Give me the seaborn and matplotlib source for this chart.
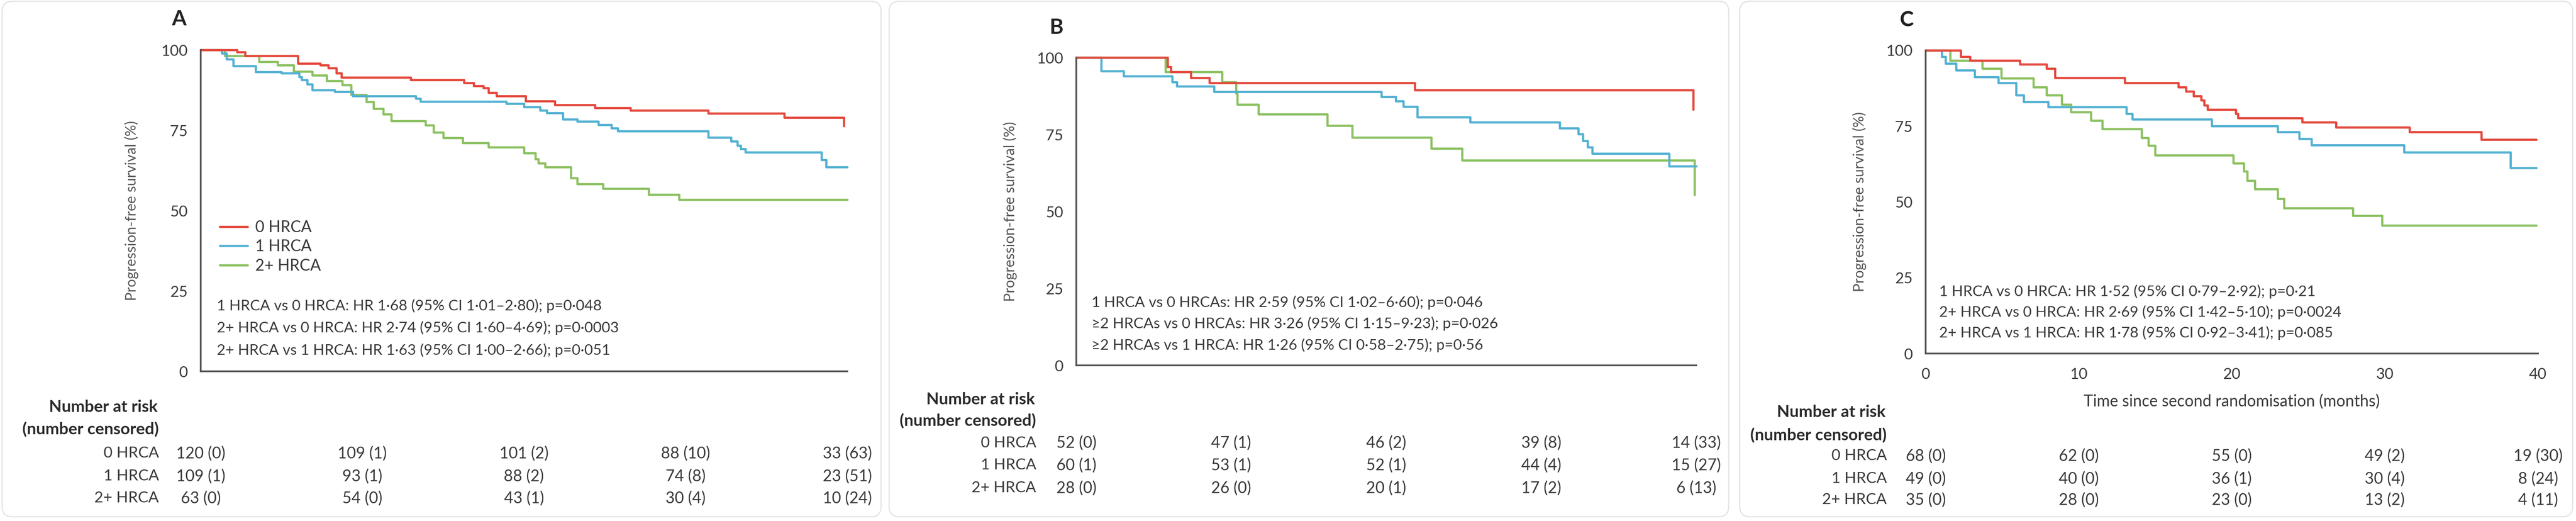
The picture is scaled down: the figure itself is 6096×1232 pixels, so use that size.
import matplotlib
matplotlib.use("Agg")
import matplotlib.pyplot as plt
import matplotlib.transforms as mtransforms
from matplotlib.patches import FancyBboxPatch
import seaborn as sns

# --- Data ---
months = [0, 10, 20, 30, 40]
group_names = ["0 HRCA", "1 HRCA", "2+ HRCA"]

# Panel A: Kaplan-Meier steps (time in months, PFS in %)
a0_t = [0, 2.25, 2.75, 6.0, 7.4, 7.9, 8.4, 8.7, 13.0, 16.3, 16.9, 17.5, 17.8, 18.3,
        20.1, 21.9, 24.4, 26.6, 31.4, 36.1, 39.8]
a0_s = [100, 99.4, 98.1, 95.8, 95.2, 94.3, 92.7, 91.4, 90.7, 89.7, 88.8, 88.2, 86.7, 85.7,
        84.1, 82.9, 82.0, 81.2, 80.2, 78.9, 76.3]
a1_t = [0, 1.3, 1.6, 2.0, 3.4, 5.0, 6.1, 6.25, 6.6, 6.9, 8.3, 9.4, 13.3, 13.6, 18.9, 20.0,
        21.0, 21.4, 22.4, 23.3, 24.6, 25.4, 25.8, 31.4, 32.8, 33.2, 33.4, 33.7, 38.4, 38.7, 40.0]
a1_s = [100, 99.0, 97.1, 95.0, 93.2, 92.7, 91.6, 90.6, 89.3, 87.5, 87.0, 85.7, 84.9, 84.0, 83.3, 82.2,
        81.2, 80.4, 78.4, 77.7, 76.7, 75.6, 74.7, 72.7, 71.6, 70.3, 69.2, 68.1, 65.8, 63.6, 63.6]
a2_t = [0, 1.5, 3.6, 4.75, 5.75, 6.9, 7.8, 8.75, 9.3, 10.25, 10.7, 11.3, 11.8, 13.9, 14.4, 15.0,
        16.2, 17.8, 20.0, 20.7, 20.9, 21.3, 22.9, 23.3, 24.9, 27.7, 29.6, 40.0]
a2_s = [100, 98.1, 96.3, 95.2, 93.3, 92.1, 90.4, 89.1, 86.0, 83.8, 81.7, 80.0, 77.9, 76.6, 74.4, 72.6,
        71.0, 69.7, 67.9, 66.1, 64.8, 63.6, 60.1, 58.3, 56.8, 55.0, 53.4, 53.4]

# Panel B
b0_t = [0, 5.9, 6.1, 7.4, 8.6, 21.85, 39.8]
b0_s = [100, 97.0, 95.3, 93.4, 91.7, 89.4, 83.1]
b1_t = [0, 1.6, 3.05, 6.2, 6.5, 8.9, 19.7, 20.6, 21.1, 22.0, 25.4, 31.2, 32.4, 32.7, 33.0, 33.3,
        38.25, 40.0]
b1_s = [100, 95.6, 94.0, 92.1, 90.7, 88.9, 87.2, 85.8, 84.1, 80.7, 79.0, 77.1, 75.2, 73.0, 70.9, 68.8,
        64.7, 64.7]
b2_t = [0, 5.75, 9.4, 10.3, 10.4, 11.75, 16.2, 17.8, 22.9, 24.9, 39.9]
b2_s = [100, 95.3, 92.1, 88.3, 84.7, 81.6, 77.9, 74.0, 70.5, 66.6, 55.4]

# Panel C
c0_t = [0, 2.3, 2.9, 6.15, 7.9, 8.45, 13.0, 16.5, 17.0, 17.5, 18.0, 18.2, 18.4, 20.25, 20.4,
        24.6, 26.8, 31.6, 36.3, 39.9]
c0_s = [100, 97.9, 96.6, 95.4, 94.0, 90.9, 89.3, 87.9, 86.5, 84.9, 83.5, 81.9, 80.5, 79.1, 77.7,
        76.3, 74.6, 73.1, 70.6, 70.6]
c1_t = [0, 1.05, 1.3, 2.0, 3.2, 4.75, 5.9, 6.4, 8.0, 13.1, 13.5, 18.7, 23.0, 24.4, 25.2, 31.25,
        38.2, 39.9]
c1_s = [100, 97.9, 95.7, 93.4, 91.2, 89.3, 85.2, 83.0, 81.3, 79.1, 77.2, 75.0, 73.1, 70.8, 68.8, 66.4,
        61.2, 61.2]
c2_t = [0, 1.6, 3.7, 4.95, 7.05, 7.9, 8.9, 9.5, 10.8, 11.55, 14.1, 14.55, 15.0, 20.1, 20.8, 21.0,
        21.5, 23.0, 23.4, 27.9, 29.8, 39.9]
c2_s = [100, 96.7, 94.0, 90.8, 87.9, 85.2, 82.1, 79.6, 76.8, 74.1, 71.1, 68.6, 65.4, 62.8, 60.1, 57.0,
        54.3, 51.0, 48.0, 45.5, 42.3, 42.3]

# Hazard ratio annotations
hr_a = ["1 HRCA vs 0 HRCA: HR 1·68 (95% CI 1·01–2·80); p=0·048",
        "2+ HRCA vs 0 HRCA: HR 2·74 (95% CI 1·60–4·69); p=0·0003",
        "2+ HRCA vs 1 HRCA: HR 1·63 (95% CI 1·00–2·66); p=0·051"]
hr_b = ["1 HRCA vs 0 HRCAs: HR 2·59 (95% CI 1·02–6·60); p=0·046",
        "≥2 HRCAs vs 0 HRCAs: HR 3·26 (95% CI 1·15–9·23); p=0·026",
        "≥2 HRCAs vs 1 HRCA: HR 1·26 (95% CI 0·58–2·75); p=0·56"]
hr_c = ["1 HRCA vs 0 HRCA: HR 1·52 (95% CI 0·79–2·92); p=0·21",
        "2+ HRCA vs 0 HRCA: HR 2·69 (95% CI 1·42–5·10); p=0·0024",
        "2+ HRCA vs 1 HRCA: HR 1·78 (95% CI 0·92–3·41); p=0·085"]

# Number at risk (number censored) at 0, 10, 20, 30, 40 months
risk_a0, cens_a0 = [120, 109, 101, 88, 33], [0, 1, 2, 10, 63]
risk_a1, cens_a1 = [109, 93, 88, 74, 23], [1, 1, 2, 8, 51]
risk_a2, cens_a2 = [63, 54, 43, 30, 10], [0, 0, 1, 4, 24]
risk_b0, cens_b0 = [52, 47, 46, 39, 14], [0, 1, 2, 8, 33]
risk_b1, cens_b1 = [60, 53, 52, 44, 15], [1, 1, 1, 4, 27]
risk_b2, cens_b2 = [28, 26, 20, 17, 6], [0, 0, 1, 2, 13]
risk_c0, cens_c0 = [68, 62, 55, 49, 19], [0, 0, 0, 2, 30]
risk_c1, cens_c1 = [49, 40, 36, 30, 8], [0, 0, 1, 4, 24]
risk_c2, cens_c2 = [35, 28, 23, 13, 4], [0, 0, 0, 2, 11]

# --- Styling ---
W, H = 6096, 1232
RED, BLUE, GREEN = "#e4493d", "#53b1d2", "#8cc162"
AXCOL = "#555555"
TXT = "#3a3a3a"

sns.set_theme(style="white")
plt.rcParams["font.family"] = ["Lato", "DejaVu Sans"]


def fx(x):
    return x / W


def fy(y):
    return 1 - y / H


panels = [
    dict(letter="A", card=(5, 2085), ax=(475, 2005, 118, 878), letter_xy=(424, 45),
         hr=hr_a, hr_xy=(513, 723), hr_dy=52.5, ylab_x=328,
         curves=[(a2_t, a2_s, GREEN), (a1_t, a1_s, BLUE), (a0_t, a0_s, RED)],
         risk=[(risk_a0, cens_a0), (risk_a1, cens_a1), (risk_a2, cens_a2)],
         head_y=(963, 1015), rows_y=(1072, 1126, 1178), lab_x=376,
         legend=True, xlabels=False),
    dict(letter="B", card=(2104, 4091), ax=(2547, 4014, 136, 864), letter_xy=(2500, 65),
         hr=hr_b, hr_xy=(2583, 715), hr_dy=50.5, ylab_x=2407,
         curves=[(b2_t, b2_s, GREEN), (b1_t, b1_s, BLUE), (b0_t, b0_s, RED)],
         risk=[(risk_b0, cens_b0), (risk_b1, cens_b1), (risk_b2, cens_b2)],
         head_y=(945, 995), rows_y=(1047, 1100, 1154), lab_x=2452,
         legend=False, xlabels=False),
    dict(letter="C", card=(4117, 6088), ax=(4557, 6006, 119, 836), letter_xy=(4512, 47),
         hr=hr_c, hr_xy=(4589, 689), hr_dy=49, ylab_x=4417,
         curves=[(c2_t, c2_s, GREEN), (c1_t, c1_s, BLUE), (c0_t, c0_s, RED)],
         risk=[(risk_c0, cens_c0), (risk_c1, cens_c1), (risk_c2, cens_c2)],
         head_y=(975, 1029), rows_y=(1078, 1132, 1182), lab_x=4465,
         legend=False, xlabels=True),
]

fig = plt.figure(figsize=(W / 100, H / 100), dpi=100)
fig.patch.set_facecolor("white")

for p in panels:
    # rounded card behind each panel
    x0, x1 = p["card"]
    card = FancyBboxPatch((fx(x0), fy(1222)), fx(x1 - x0), (1222 - 3) / H,
                          boxstyle="round,pad=0,rounding_size=0.004",
                          transform=fig.transFigure, facecolor="white",
                          edgecolor="#e3e3e3", linewidth=2, zorder=-5,
                          mutation_aspect=W / H)
    fig.patches.append(card)

    l, r, t, b = p["ax"]
    ax = fig.add_axes([fx(l), fy(b), fx(r - l), (b - t) / H])
    ax.set_facecolor("none")
    ax.set_zorder(2)

    lines = []
    for ts, ss, col in p["curves"]:
        sns.lineplot(x=ts, y=ss, ax=ax, color=col, lw=3.8, drawstyle="steps-post",
                     estimator=None, sort=False, legend=False, clip_on=False)
        lines.append(ax.lines[-1])

    ax.set_xlim(0, 40)
    ax.set_ylim(0, 100)
    ax.set_xticks(months)
    ax.set_yticks([0, 25, 50, 75, 100])
    for side in ["top", "right"]:
        ax.spines[side].set_visible(False)
    for side in ["left", "bottom"]:
        ax.spines[side].set_linewidth(3)
        ax.spines[side].set_color(AXCOL)
    ax.tick_params(length=16, width=2.5, color=AXCOL, direction="out",
                   labelsize=26, labelcolor=TXT, pad=6)
    if not p["xlabels"]:
        ax.tick_params(axis="x", labelbottom=False)
    else:
        ax.tick_params(axis="x", pad=8)
        fig.text(fx((l + r) / 2), fy(949), "Time since second randomisation (months)",
                 ha="center", va="center", fontsize=27, color=TXT)
    ax.set_xlabel("")
    ax.set_ylabel("Progression-free survival (%)", fontsize=24.5, color="#555555")
    ax.yaxis.set_label_coords((p["ylab_x"] - l) / (r - l), 0.5)

    fig.text(fx(p["letter_xy"][0]), fy(p["letter_xy"][1]), p["letter"], ha="center",
             va="center", fontsize=36, weight="bold", color="#222222")

    hx, hy = p["hr_xy"]
    for i, line in enumerate(p["hr"]):
        fig.text(fx(hx), fy(hy + i * p["hr_dy"]), line, ha="left", va="center",
                 fontsize=25.5, color=TXT)

    if p["legend"]:
        handles = [lines[2], lines[1], lines[0]]
        ax.legend(handles, group_names, loc="upper left", frameon=False,
                  bbox_to_anchor=(fx(520), fy(520)), bbox_transform=fig.transFigure,
                  borderpad=0, borderaxespad=0, handlelength=1.75, handletextpad=0.5,
                  labelspacing=0.25, fontsize=27, labelcolor=TXT)

    # number at risk table
    fig.text(fx(p["lab_x"] - 3), fy(p["head_y"][0]), "Number at risk", ha="right",
             va="center", fontsize=28, weight="bold", color="#2a2a2a")
    fig.text(fx(p["lab_x"]), fy(p["head_y"][1]), "(number censored)", ha="right",
             va="center", fontsize=28, weight="bold", color="#2a2a2a")
    trans = mtransforms.blended_transform_factory(ax.transData, fig.transFigure)
    for name, (nr, nc), ry in zip(group_names, p["risk"], p["rows_y"]):
        fig.text(fx(p["lab_x"]), fy(ry), name, ha="right", va="center",
                 fontsize=26.5, color=TXT)
        for m, n, c in zip(months, nr, nc):
            ax.text(m, fy(ry), f"{n} ({c})", transform=trans, ha="center",
                    va="center", fontsize=27, color=TXT, clip_on=False)

fig.savefig("out.png", dpi=100, facecolor="white")
